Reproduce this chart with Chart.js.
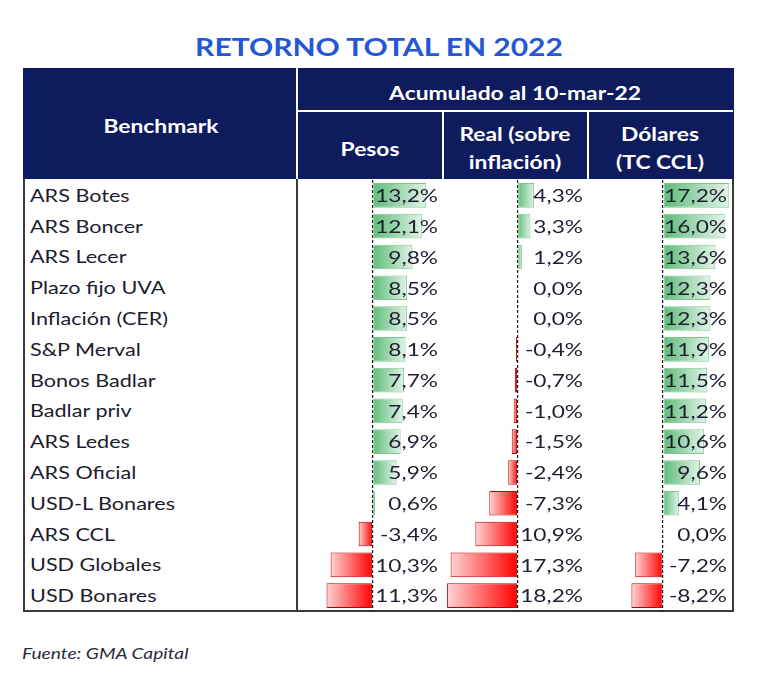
<!DOCTYPE html>
<html>
<head>
<meta charset="utf-8">
<script src="https://cdn.jsdelivr.net/npm/chart.js@4.4.0/dist/chart.umd.min.js"></script>
<style>
  body { margin: 0; background: #fff; font-family: Lato, "Open Sans", sans-serif; }
  #page { position: relative; width: 768px; height: 676px; overflow: hidden; }
  .abs { position: absolute; }
  .c { position: absolute; white-space: nowrap; transform: translate(-50%, -50%) scaleX(1.2); }
  .l { position: absolute; white-space: nowrap; transform: translateY(-50%) scaleX(1.2); transform-origin: left center; }
  .hd { color: #fff; font-weight: bold; font-size: 19px; }
  .name { color: #1c1c2e; font-size: 18px; left: 30px; }
  canvas { position: absolute; }
</style>
</head>
<body>
<div id="page">
  <div class="c" style="left:379px; top:46px; color:#2456d6; font-weight:bold; font-size:25px;">RETORNO TOTAL EN 2022</div>

  <!-- header block -->
  <div class="abs" style="left:23px; top:68px; width:711px; height:111px; background:#0e1c5e;"></div>
  <div class="abs" style="left:296px; top:68px; width:2px; height:111px; background:#fff;"></div>
  <div class="abs" style="left:298px; top:110px; width:435px; height:2px; background:#fff;"></div>
  <div class="abs" style="left:442px; top:112px; width:2px; height:67px; background:#fff;"></div>
  <div class="abs" style="left:587px; top:112px; width:2px; height:67px; background:#fff;"></div>

  <div class="c hd" style="left:161px; top:125px;">Benchmark</div>
  <div class="c hd" style="left:515px; top:92px;">Acumulado al 10-mar-22</div>
  <div class="c hd" style="left:370px; top:148px;">Pesos</div>
  <div class="c hd" style="left:515px; top:133px;">Real (sobre</div>
  <div class="c hd" style="left:515px; top:161px;">inflación)</div>
  <div class="c hd" style="left:660px; top:133px;">Dólares</div>
  <div class="c hd" style="left:660px; top:161px;">(TC CCL)</div>

  <!-- body frame -->
  <div class="abs" style="left:23px; top:179px; width:2px; height:433px; background:#3a3a3a;"></div>
  <div class="abs" style="left:732px; top:179px; width:2px; height:433px; background:#3a3a3a;"></div>
  <div class="abs" style="left:23px; top:610px; width:711px; height:2px; background:#3a3a3a;"></div>
  <div class="abs" style="left:296px; top:179px; width:2px; height:433px; background:#3a3a3a;"></div>

  <div id="names"></div>

  <canvas id="pesosChart" width="145" height="431" style="left:298px; top:180px;"></canvas>
  <canvas id="realChart" width="144" height="431" style="left:444px; top:180px;"></canvas>
  <canvas id="dolaresChart" width="143" height="431" style="left:589px; top:180px;"></canvas>

  <div class="l" style="left:22px; top:652px; color:#2b2b3a; font-style:italic; font-size:16px;">Fuente: GMA Capital</div>
</div>

<script>
  var benchmarks = [
    "ARS Botes", "ARS Boncer", "ARS Lecer", "Plazo fijo UVA", "Inflación (CER)",
    "S&P Merval", "Bonos Badlar", "Badlar priv", "ARS Ledes", "ARS Oficial",
    "USD-L Bonares", "ARS CCL", "USD Globales", "USD Bonares",
  ];
  var pesos = [13.2, 12.1, 9.8, 8.5, 8.5, 8.1, 7.7, 7.4, 6.9, 5.9, 0.6, -3.4, -10.3, -11.3];
  var real = [4.3, 3.3, 1.2, 0.0, 0.0, -0.4, -0.7, -1.0, -1.5, -2.4, -7.3, -10.9, -17.3, -18.2];
  var dolares = [17.2, 16.0, 13.6, 12.3, 12.3, 11.9, 11.5, 11.2, 10.6, 9.6, 4.1, 0.0, -7.2, -8.2];

  // benchmark names column
  var namesDiv = document.getElementById("names");
  var rowH = 431 / benchmarks.length;
  benchmarks.forEach(function (name, i) {
    var d = document.createElement("div");
    d.className = "l name";
    d.style.top = (180 + rowH * (i + 0.5) - 0.5) + "px";
    d.textContent = name;
    namesDiv.appendChild(d);
  });

  function fmt(v) {
    return v.toFixed(1).replace(".", ",") + "%";
  }

  // excel-like gradient data bars
  function barFill(context) {
    var chart = context.chart;
    if (!chart.chartArea) return "#63be7b";
    var v = context.raw;
    var x0 = chart.scales.x.getPixelForValue(0);
    var x1 = chart.scales.x.getPixelForValue(v);
    if (x1 === x0) x1 = x0 + 1;
    var g = chart.ctx.createLinearGradient(x0, 0, x1, 0);
    if (v < 0) {
      g.addColorStop(0, "#ff0000");
      g.addColorStop(1, "#ffd4d4");
    } else {
      g.addColorStop(0, "#5dbb78");
      g.addColorStop(1, "#e2f3e7");
    }
    return g;
  }

  // value text, right aligned and clipped at the zero line like the sheet
  var valueLabels = {
    id: "valueLabels",
    afterDatasetsDraw: function (chart) {
      var c = chart.ctx;
      var meta = chart.getDatasetMeta(0);
      var x0 = chart.scales.x.getPixelForValue(0);
      var right = chart.chartArea.right - 5;
      c.save();
      c.beginPath();
      c.rect(x0 + 3, 0, chart.width, chart.height);
      c.clip();
      c.font = "18px Lato";
      c.fillStyle = "#1e1e30";
      c.textAlign = "right";
      c.textBaseline = "middle";
      meta.data.forEach(function (bar, i) {
        var v = chart.data.datasets[0].data[i];
        c.save();
        c.translate(right, bar.y + 1);
        c.scale(1.26, 1);
        c.fillText(fmt(v), 0, 0);
        c.restore();
      });
      c.restore();
    },
  };

  function makeColumn(id, values, min, max) {
    var ctx = document.getElementById(id).getContext("2d");
    return new Chart(ctx, {
      type: "bar",
      data: {
        labels: benchmarks,
        datasets: [
          {
            data: values,
            backgroundColor: barFill,
            borderColor: function (c) { return c.raw < 0 ? "#b80000" : "#7cc892"; },
            borderWidth: 1,
            borderSkipped: false,
            barPercentage: 0.8,
            categoryPercentage: 1,
          },
        ],
      },
      options: {
        indexAxis: "y",
        responsive: false,
        animation: false,
        layout: { padding: 0 },
        plugins: { legend: { display: false }, tooltip: { enabled: false } },
        scales: {
          x: {
            min: min,
            max: max,
            afterBuildTicks: function (axis) { axis.ticks = [{ value: 0 }]; },
            ticks: { display: false },
            grid: { drawTicks: false, color: "#111", lineWidth: 1.2 },
            border: { display: false, dash: [3, 2] },
          },
          y: { display: false },
        },
      },
      plugins: [valueLabels],
    });
  }

  makeColumn("pesosChart", pesos, -18.3, 17.3);
  makeColumn("realChart", real, -19.0, 18.2);
  makeColumn("dolaresChart", dolares, -19.2, 17.9);
</script>
</body>
</html>
